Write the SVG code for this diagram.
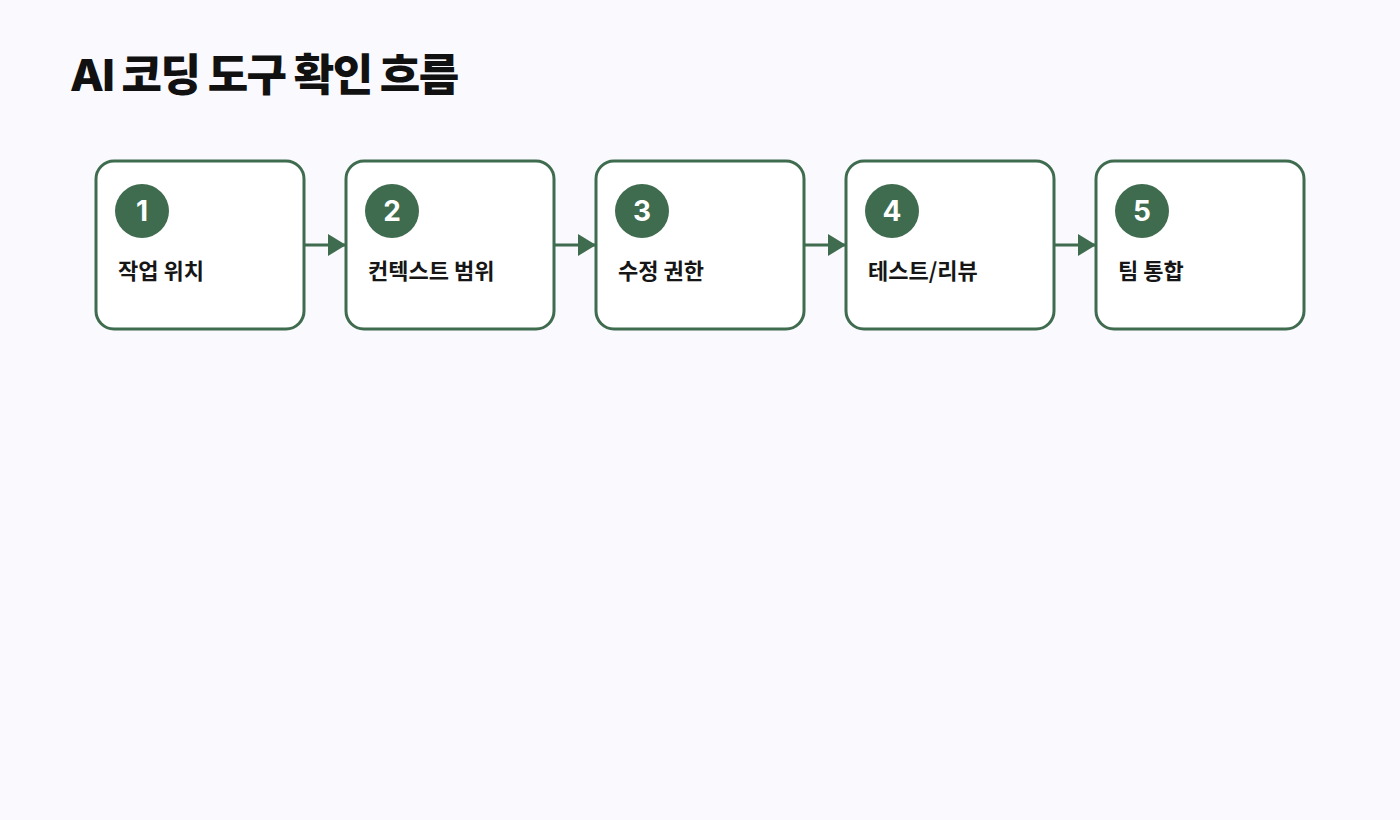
<svg xmlns="http://www.w3.org/2000/svg" width="1400" height="820" viewBox="0 0 1400 820">
<style>
.box{fill:#fff;stroke:#3f6b4e;stroke-width:3}
.num{fill:#3f6b4e}
.nt{fill:#fff;font-family:Inter,"Noto Sans CJK KR",sans-serif;font-weight:700;font-size:28px;text-anchor:middle}
.lb{fill:#161616;font-family:"Noto Sans CJK KR",sans-serif;font-weight:700;font-size:22px}
.ln{stroke:#3f6b4e;stroke-width:3;fill:none}
</style>
<defs><marker id="ah" markerWidth="10" markerHeight="10" refX="9" refY="5" orient="auto" markerUnits="userSpaceOnUse" viewBox="0 0 10 10"><path d="M0,0L10,5L0,10z" fill="#3f6b4e" transform="scale(1)"/></marker>
<marker id="a" markerWidth="18" markerHeight="22" refX="17" refY="11" orient="auto" markerUnits="userSpaceOnUse"><path d="M0,0L18,11L0,22z" fill="#3f6b4e"/></marker></defs>
<rect width="1400" height="820" fill="#f9f9fe"/>
<text x="70" y="91" font-family="Inter,'Noto Sans CJK KR',sans-serif" font-weight="800" font-size="44" fill="#111" letter-spacing="-1.5">AI 코딩 도구 확인 흐름</text>
<g id="connectors">
<path class="ln" d="M305,245H345" marker-end="url(#a)"/>
<path class="ln" d="M555,245H595" marker-end="url(#a)"/>
<path class="ln" d="M805,245H845" marker-end="url(#a)"/>
<path class="ln" d="M1055,245H1095" marker-end="url(#a)"/>
</g>
<g id="n1"><rect class="box" x="96" y="161" width="208" height="168" rx="18"/><circle class="num" cx="142" cy="211" r="27"/><text class="nt" x="142" y="221">1</text><text class="lb" x="118" y="279">작업 위치</text></g>
<g id="n2"><rect class="box" x="346" y="161" width="208" height="168" rx="18"/><circle class="num" cx="392" cy="211" r="27"/><text class="nt" x="392" y="221">2</text><text class="lb" x="368" y="279">컨텍스트 범위</text></g>
<g id="n3"><rect class="box" x="596" y="161" width="208" height="168" rx="18"/><circle class="num" cx="642" cy="211" r="27"/><text class="nt" x="642" y="221">3</text><text class="lb" x="618" y="279">수정 권한</text></g>
<g id="n4"><rect class="box" x="846" y="161" width="208" height="168" rx="18"/><circle class="num" cx="892" cy="211" r="27"/><text class="nt" x="892" y="221">4</text><text class="lb" x="868" y="279">테스트/리뷰</text></g>
<g id="n5"><rect class="box" x="1096" y="161" width="208" height="168" rx="18"/><circle class="num" cx="1142" cy="211" r="27"/><text class="nt" x="1142" y="221">5</text><text class="lb" x="1118" y="279">팀 통합</text></g>
</svg>
